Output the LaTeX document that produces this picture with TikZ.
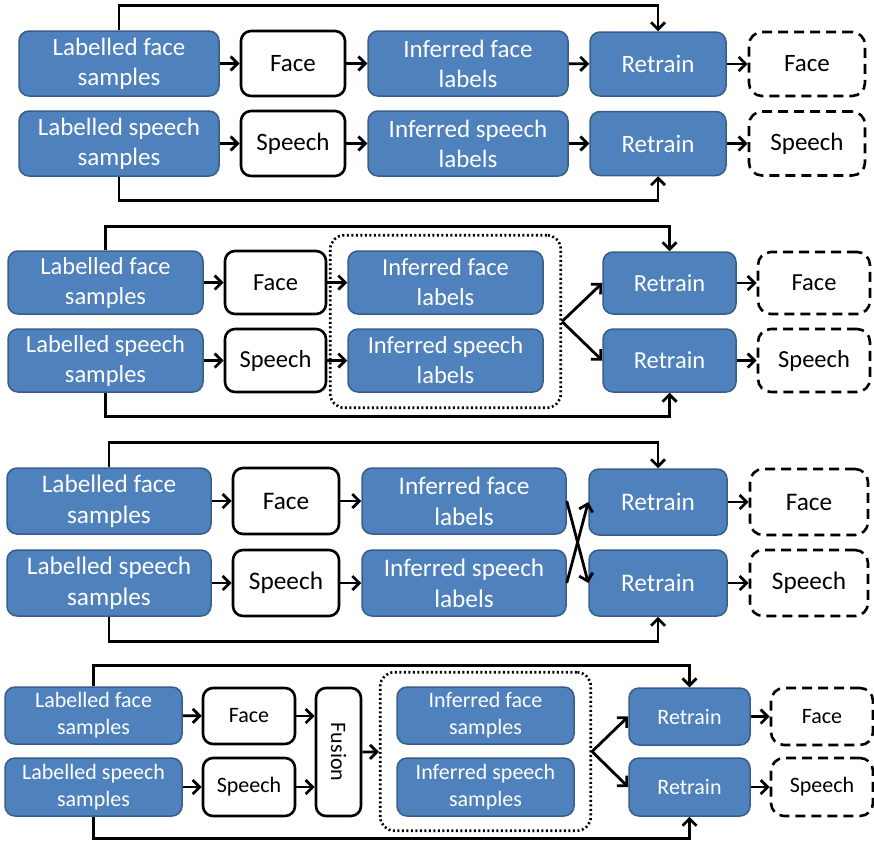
\documentclass[tikz,border=0pt]{standalone}
\usepackage{fontspec}
\setmainfont{Carlito}
\usepackage{graphicx}
\usepackage{tikz}
\usepackage{xcolor}
\usetikzlibrary{arrows.meta, fit}
\definecolor{boxfill}{HTML}{4F81BD}
\definecolor{boxedge}{HTML}{385D8A}
\tikzstyle{every node}=[font=\fontsize{25}{30}\selectfont]
\tikzstyle{midtext} = [font=\fontsize{24.5}{30}\selectfont]
\tikzstyle{bigtext} = [font=\fontsize{25.3}{31}\selectfont]
\tikzstyle{small} = [font=\fontsize{22}{27}\selectfont]
\tikzstyle{sample} = [rectangle, draw=boxedge, fill=boxfill, text=white, line width=1.5pt, rounded corners=10pt, align=center, inner sep=0pt]
\tikzstyle{model} = [rectangle, draw, fill=white, line width=2.6pt, rounded corners=10pt, align=center, inner sep=0pt]
\tikzstyle{newmodel} = [model, dash pattern=on 10pt off 6pt, rounded corners=13pt]
\tikzstyle{group} = [rectangle, draw, line width=2.6pt, dash pattern=on 2pt off 2.5pt, rounded corners=14pt, inner sep=15pt]
\tikzstyle{line} = [draw, line width=2.8pt, -{Straight Barb[length=7pt,width=14pt]}]
\tikzset{sz/.style 2 args={minimum width=#1pt, minimum height=#2pt}}

\begin{document}
\begin{tikzpicture}[x=1pt, y=-1pt]
    \useasboundingbox (0,0) rectangle (874,841);
    % Panel 1: separate models
    \node [sample, sz={200}{65}] (p1lf) at (119,63.5) {Labelled face\\samples};
    \node [model, sz={104}{65}] (p1face) at (293,63.5) {Face};
    \node [sample, sz={200}{65}] (p1if) at (468,63.5) {Inferred face\\labels};
    \node [sample, sz={136}{64}] (p1rf) at (658,64) {Retrain};
    \node [newmodel, sz={116}{64}] (p1nf) at (807,64) {Face};
    \node [sample, sz={200}{65}] (p1ls) at (119,143.5) {Labelled speech\\samples};
    \node [model, sz={104}{65}] (p1speech) at (293,143.5) {Speech};
    \node [sample, sz={200}{65}] (p1is) at (468,143.5) {Inferred speech\\labels};
    \node [sample, sz={136}{64}] (p1rs) at (658,143.5) {Retrain};
    \node [newmodel, sz={116}{64}] (p1ns) at (807,143.5) {Speech};
    \path [line] (p1lf) -- (p1face);
    \path [line] (p1face) -- (p1if);
    \path [line] (p1if) -- (p1rf);
    \path [line] (p1rf) -- (p1nf);
    \path [line] (p1ls) -- (p1speech);
    \path [line] (p1speech) -- (p1is);
    \path [line] (p1is) -- (p1rs);
    \path [line] (p1rs) -- (p1ns);
    \path [line] (p1lf.north) -- ++(0,-25) -| (p1rf.north);
    \path [line] (p1ls.south) -- ++(0,24) -| (p1rs.south);

    % Panel 2: shared labels
    \node [sample, midtext, sz={195}{63}] (p2lf) at (105.5,282.5) {Labelled face\\samples};
    \node [model, midtext, sz={101}{63}] (p2face) at (275.5,282.5) {Face};
    \node [sample, midtext, sz={195}{63}] (p2if) at (445.5,282.5) {Inferred face\\labels};
    \node [sample, midtext, sz={133}{62}] (p2rf) at (669.5,283) {Retrain};
    \node [newmodel, midtext, sz={112}{62}] (p2nf) at (814,283) {Face};
    \node [sample, midtext, sz={195}{63}] (p2ls) at (105.5,360.5) {Labelled speech\\samples};
    \node [model, midtext, sz={101}{63}] (p2speech) at (275.5,360.5) {Speech};
    \node [sample, midtext, sz={195}{63}] (p2is) at (445.5,360.5) {Inferred speech\\labels};
    \node [sample, midtext, sz={133}{63}] (p2rs) at (669.5,360.5) {Retrain};
    \node [newmodel, midtext, sz={112}{63}] (p2ns) at (814,360.5) {Speech};
    \node [group, fit=(p2if)(p2is), inner xsep=17pt] (p2grp) {};
    \path [line] (p2lf) -- (p2face);
    \path [line] (p2face) -- (p2if);
    \path [line] (p2rf) -- (p2nf);
    \path [line] (p2ls) -- (p2speech);
    \path [line] (p2speech) -- (p2is);
    \path [line] (p2rs) -- (p2ns);
    \path [line] (p2grp.east) -- (p2rf.west);
    \path [line] (p2grp.east) -- (p2rs.west);
    \path [line] (p2lf.north) -- ++(0,-24) -| (p2rf.north);
    \path [line] (p2ls.south) -- ++(0,24) -| (p2rs.south);

    % Panel 3: crossed labels
    \node [sample, bigtext, sz={204}{66}] (p3lf) at (109,501) {Labelled face\\samples};
    \node [model, bigtext, sz={106}{66}] (p3face) at (286,501) {Face};
    \node [sample, bigtext, sz={204}{66}] (p3if) at (464,501) {Inferred face\\labels};
    \node [sample, bigtext, sz={138}{66}] (p3rf) at (658,502) {Retrain};
    \node [newmodel, bigtext, sz={118}{66}] (p3nf) at (809,502) {Face};
    \node [sample, bigtext, sz={204}{66}] (p3ls) at (109,583) {Labelled speech\\samples};
    \node [model, bigtext, sz={106}{66}] (p3speech) at (286,583) {Speech};
    \node [sample, bigtext, sz={204}{66}] (p3is) at (464,583) {Inferred speech\\labels};
    \node [sample, bigtext, sz={138}{66}] (p3rs) at (658,583) {Retrain};
    \node [newmodel, bigtext, sz={118}{66}] (p3ns) at (809,583) {Speech};
    \path [line] (p3lf) -- (p3face);
    \path [line] (p3face) -- (p3if);
    \path [line] (p3rf) -- (p3nf);
    \path [line] (p3ls) -- (p3speech);
    \path [line] (p3speech) -- (p3is);
    \path [line] (p3rs) -- (p3ns);
    \path [line] (p3if.east) -- (p3rs.west);
    \path [line] (p3is.east) -- (p3rf.west);
    \path [line] (p3lf.north) -- ++(0,-25) -| (p3rf.north);
    \path [line] (p3ls.south) -- ++(0,25) -| (p3rs.south);

    % Panel 4: fusion
    \node [sample, small, sz={177}{57}] (p4lf) at (93.5,715.5) {Labelled face\\samples};
    \node [model, small, sz={92}{56}] (p4face) at (249,716) {Face};
    \node [model, small, sz={45}{128}] (p4fusion) at (338.5,752) {\rotatebox{-90}{Fusion}};
    \node [sample, small, sz={177}{57}] (p4if) at (485.5,715.5) {Inferred face\\samples};
    \node [sample, small, sz={121}{57}] (p4rf) at (689.5,716.5) {Retrain};
    \node [newmodel, small, sz={102}{57}] (p4nf) at (822,716.5) {Face};
    \node [sample, small, sz={177}{58}] (p4ls) at (93.5,787) {Labelled speech\\samples};
    \node [model, small, sz={92}{58}] (p4speech) at (249,787) {Speech};
    \node [sample, small, sz={177}{58}] (p4is) at (485.5,787) {Inferred speech\\samples};
    \node [sample, small, sz={121}{58}] (p4rs) at (689.5,787) {Retrain};
    \node [newmodel, small, sz={102}{58}] (p4ns) at (822,787) {Speech};
    \node [group, fit=(p4if)(p4is), inner sep=14pt, inner xsep=16pt] (p4grp) {};
    \path [line] (p4lf) -- (p4face);
    \path [line] (p4face) -- (p4fusion.west |- p4face);
    \path [line] (p4ls) -- (p4speech);
    \path [line] (p4speech) -- (p4fusion.west |- p4speech);
    \path [line] (p4fusion) -- (p4grp);
    \path [line] (p4grp.east) -- (p4rf.west);
    \path [line] (p4grp.east) -- (p4rs.west);
    \path [line] (p4rf) -- (p4nf);
    \path [line] (p4rs) -- (p4ns);
    \path [line] (p4lf.north) -- ++(0,-21) -| (p4rf.north);
    \path [line] (p4ls.south) -- ++(0,22) -| (p4rs.south);
\end{tikzpicture}
\end{document}
